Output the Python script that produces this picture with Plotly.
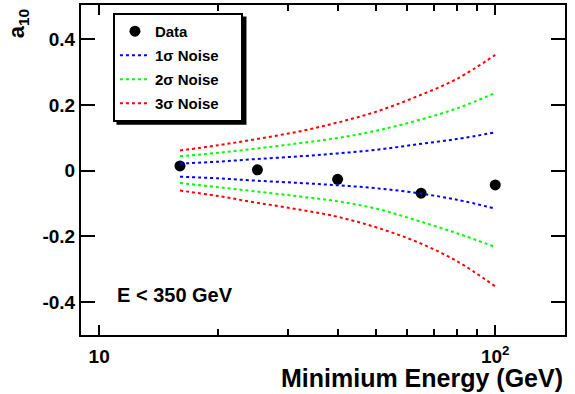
import plotly.graph_objects as go
import numpy as np

# Data points
data_x = [16.0, 25.1, 40.0, 65.0, 100.0]
data_y = [0.015, 0.003, -0.026, -0.068, -0.043]

# Noise band curves
noise_x = [16, 20, 25, 32, 40, 50, 63, 80, 100]
s1_up = [0.022, 0.028, 0.036, 0.044, 0.053, 0.064, 0.080, 0.097, 0.117]
s1_lo = [-0.018, -0.023, -0.030, -0.037, -0.044, -0.053, -0.067, -0.088, -0.115]
s2_up = [0.044, 0.055, 0.068, 0.084, 0.100, 0.122, 0.152, 0.190, 0.237]
s2_lo = [-0.037, -0.050, -0.063, -0.078, -0.093, -0.115, -0.150, -0.190, -0.232]
s3_up = [0.062, 0.078, 0.097, 0.120, 0.147, 0.180, 0.225, 0.280, 0.353]
s3_lo = [-0.060, -0.077, -0.097, -0.118, -0.140, -0.172, -0.215, -0.275, -0.352]

y_ticks = [0.4, 0.2, 0, -0.2, -0.4]
y_ticktext = ["0.4", "0.2", "0", "-0.2", "-0.4"]
x_ticks = [10, 100]
x_ticktext = ["10", "10<sup>2</sup>"]
x_minor = [20, 30, 40, 50, 60, 70, 80, 90]

FONT = "Liberation Sans, Arial, sans-serif"
PAD = "\u00a0" * 4

fig = go.Figure()
fig.add_trace(go.Scatter(x=data_x, y=data_y, mode="markers", name="Data" + PAD,
                         marker=dict(color="black", size=11)))
for name, up, lo, col in [("1σ Noise", s1_up, s1_lo, "#0000ff"),
                          ("2σ Noise", s2_up, s2_lo, "#00ff00"),
                          ("3σ Noise", s3_up, s3_lo, "#ff0000")]:
    fig.add_trace(go.Scatter(x=noise_x, y=up, mode="lines", name=name + PAD,
                             line=dict(color=col, width=2, dash="dot", shape="spline"),
                             legendgroup=name))
    fig.add_trace(go.Scatter(x=noise_x, y=lo, mode="lines", name=name + PAD,
                             line=dict(color=col, width=2, dash="dot", shape="spline"),
                             legendgroup=name, showlegend=False))

# legend shadow (drawn under the legend box)
fig.add_shape(type="rect", xref="paper", yref="paper",
              x0=0.0733, x1=0.3419, y0=0.637, y1=0.9652,
              fillcolor="black", line=dict(width=0), layer="above")

fig.update_layout(
    width=575, height=394,
    margin=dict(l=81, r=10, t=5, b=59, autoexpand=False),
    paper_bgcolor="white", plot_bgcolor="white",
    font=dict(family=FONT, size=16, color="black", weight="bold"),
    showlegend=True,
    legend=dict(x=0.066, y=0.976, xanchor="left", yanchor="top",
                bgcolor="white", bordercolor="black", borderwidth=2,
                tracegroupgap=1.5,
                font=dict(family=FONT, size=15, weight="bold")),
    xaxis=dict(type="log", range=[np.log10(9), np.log10(150)], automargin=False,
               showgrid=False, zeroline=False, showline=True, linecolor="black",
               linewidth=2, mirror="ticks", ticks="inside", ticklen=10, tickwidth=2,
               tickcolor="black", tickvals=x_ticks, ticktext=x_ticktext,
               tickfont=dict(size=19, weight="bold"), ticklabelstandoff=3,
               minor=dict(ticks="inside", ticklen=6, tickwidth=2, tickcolor="black",
                          tickvals=x_minor, showgrid=False)),
    yaxis=dict(range=[-0.5, 0.505], automargin=False, showgrid=False, zeroline=False,
               showline=True, linecolor="black", linewidth=2, mirror="ticks",
               ticks="inside", ticklen=14, tickwidth=2, tickcolor="black",
               tickvals=y_ticks, ticktext=y_ticktext,
               tickfont=dict(size=19, weight="bold")),
    annotations=[
        dict(text="Minimium Energy (GeV)", xref="paper", yref="paper",
             x=1.0, y=-0.13, xanchor="right", yanchor="middle", showarrow=False,
             font=dict(size=25, weight="bold")),
        dict(text="a<sub>10</sub>", xref="paper", yref="paper",
             x=-0.130, y=0.942, xanchor="center", yanchor="middle", showarrow=False,
             textangle=-90, font=dict(size=22, weight="bold")),
        dict(text="E < 350 GeV", xref="paper", yref="paper",
             x=0.07, y=0.12, xanchor="left", yanchor="middle", showarrow=False,
             font=dict(size=20, weight="bold")),
    ],
)

fig.write_html("out.html", config={"displayModeBar": False},
               post_script="document.body.style.margin='0';document.body.style.overflow='hidden';")
